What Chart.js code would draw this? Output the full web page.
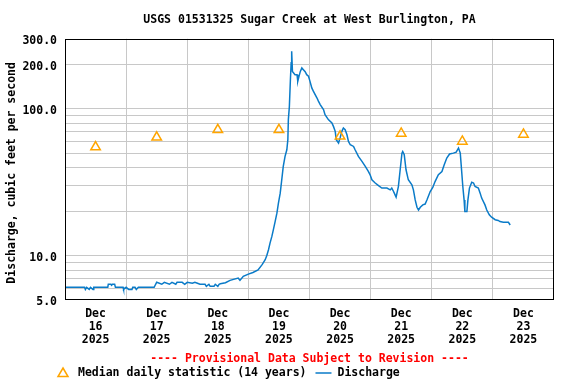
<!DOCTYPE html>
<html>
<head>
<meta charset="utf-8">
<script src="https://cdn.jsdelivr.net/npm/chart.js@4/dist/chart.umd.min.js"></script>
<style>
  body { margin: 0; background: #fff; }
  canvas { display: block; }
</style>
</head>
<body>
<canvas id="flowChart" width="576" height="384"></canvas>
<script>
// hours since Dec 16 2025 00:00, discharge in cfs
const flowHours = [
  0, 7.7, 8, 8.5, 9.5, 10, 11, 11.3,
  16.8, 17, 18, 18.3, 18.6, 19.5, 19.8,
  22.8, 23, 24, 25, 26.3, 26.6, 27.5, 28, 28.8,
  35, 35.4, 36, 38, 39, 41, 42, 43.5, 44, 46, 47, 48,
  50, 51, 52, 53, 55, 55.5, 56.5, 57, 58.5, 59, 60, 60.5,
  61, 63, 64.8, 68, 68.7, 70, 72, 73.8, 75.8, 77.4, 78.6, 79.2,
  79.9, 80.5, 81.2, 81.8, 82.5, 83.2, 83.8, 84.5, 85.1, 85.7, 86.4, 87.1,
  87.5, 87.7, 88.1, 88.5, 88.8, 89.0, 89.3, 89.7, 90.3, 91.1, 91.4, 91.9,
  92.4, 93.0, 93.6, 94.3, 94.9, 95.6, 96.2, 96.9, 97.5, 98.9, 99.5, 100.2,
  101.5, 102.1, 103.4, 104.8, 105.4, 106.1, 106.5, 107.4, 108.0, 108.7, 109.3, 110.0,
  110.7, 111.3, 112.0, 113.3, 113.9, 115.2, 116.6, 117.9, 119.1, 119.8, 120.5, 121.8,
  123.1, 124.4, 126.4, 127.7, 128.3, 129.0, 129.6, 130.0, 130.9, 131.6, 132.3, 132.6,
  133.2, 133.9, 134.8, 136.2, 136.8, 137.5, 138.2, 138.8, 139.5, 140.5, 141.4, 142.1,
  143.4, 144.4, 145.3, 146.6, 148.0, 148.9, 149.9, 151.0, 152.5, 153.6, 154.5, 155.2,
  155.7, 156.2, 156.7, 157.0, 157.8, 158.2, 158.8, 159.7, 160.4, 161.0, 162.3, 163.0,
  163.6, 164.9, 165.6, 166.6, 167.5, 168.9, 170.1, 170.8, 172.1, 174.1, 174.8
];
const flowCfs = [
  6.1, 6.1, 5.9, 6.1, 5.9, 6.1, 5.9, 6.1,
  6.1, 6.4, 6.4, 6.3, 6.4, 6.4, 6.1,
  6.1, 5.9, 6.1, 5.9, 5.9, 6.1, 6.1, 5.9, 6.1,
  6.1, 6.3, 6.6, 6.4, 6.6, 6.4, 6.6, 6.4, 6.6, 6.6, 6.4, 6.6,
  6.5, 6.6, 6.5, 6.4, 6.4, 6.2, 6.4, 6.2, 6.2, 6.4, 6.2, 6.4,
  6.45, 6.55, 6.8, 7.05, 6.8, 7.25, 7.5, 7.7, 8.0, 8.7, 9.4, 10.0,
  11.0, 12.2, 13.5, 15.0, 17.1, 19.5, 22.8, 26.7, 32.9, 40.6, 47.5, 52.7,
  61.7, 84.5, 104, 158, 206, 247, 180, 176, 171, 171, 154, 167,
  180, 190, 185, 179, 171, 167, 154, 139, 132, 119, 113, 107,
  98.8, 91.3, 84.5, 80.2, 76.0, 70.3, 61.7, 58.6, 63.4, 70.3, 74.1, 72.2,
  66.7, 60.1, 57.0, 55.5, 52.7, 47.5, 43.9, 40.6, 37.5, 35.6, 32.9, 31.3,
  30.0, 28.9, 28.9, 28.1, 28.9, 27.4, 26.0, 25.1, 29.6, 38.5, 50.0, 51.3,
  48.8, 38.5, 32.9, 30.4, 28.1, 24.0, 21.4, 20.5, 21.4, 22.2, 22.5, 24.0,
  27.4, 29.2, 32.0, 35.6, 37.5, 41.7, 46.3, 49.3, 50.0, 50.8, 54.2, 50.0,
  38.5, 29.6, 24.0, 20.0, 20.0, 24.0, 28.9, 31.7, 31.3, 29.6, 28.9, 26.7,
  24.7, 22.2, 20.5, 19.0, 18.3, 17.6, 17.4, 17.1, 16.9, 16.9, 16.2
];

// median daily statistic, plotted at noon of each day
const medianHours = [12, 36, 60, 84, 108, 132, 156, 180];
const medianCfs = [55, 64, 72, 72, 65, 68, 60, 67];

const tickMonth = 'Dec';
const tickDays = ['16', '17', '18', '19', '20', '21', '22', '23'];
const tickYear = '2025';
const yTickValues = [5, 6, 7, 8, 9, 10, 20, 30, 40, 50, 60, 70, 80, 90, 100, 200, 300];
const yTickLabels = [5, 10, 100, 200, 300];

const titleText = 'USGS 01531325 Sugar Creek at West Burlington, PA';
const yTitle = 'Discharge, cubic feet per second ';
const provisionalText = '---- Provisional Data Subject to Revision ----';
const medianLabel = 'Median daily statistic (14 years)';
const flowLabel = 'Discharge';

const monoFont = '"DejaVu Sans Mono", "Liberation Mono", monospace';
const flowColor = '#0a7bc8';
const medianColor = '#ffa500';
const gridColor = '#c8c8c8';

// frame around plot, red note and legend below the axis
const notesPlugin = {
  id: 'notes',
  afterDraw(chart) {
    const ctx = chart.ctx;
    const a = chart.chartArea;
    ctx.save();
    ctx.strokeStyle = '#000';
    ctx.lineWidth = 1;
    ctx.strokeRect(Math.round(a.left) + 0.5, Math.round(a.top) + 0.5,
      Math.round(a.width) - 1, Math.round(a.height) - 1);

    ctx.font = 'bold 11.5px ' + monoFont;
    ctx.textBaseline = 'middle';
    ctx.fillStyle = '#ff0000';
    ctx.textAlign = 'center';
    ctx.fillText(provisionalText, (a.left + a.right) / 2, a.bottom + 59);

    let ly = a.bottom + 73;
    let lx = a.left - 2;
    ctx.strokeStyle = medianColor;
    ctx.lineWidth = 1.5;
    ctx.beginPath();
    ctx.moveTo(lx, ly - 5);
    ctx.lineTo(lx + 5, ly + 3.5);
    ctx.lineTo(lx - 5, ly + 3.5);
    ctx.closePath();
    ctx.stroke();

    ctx.fillStyle = '#000';
    ctx.textAlign = 'left';
    let tx = a.left + 13;
    ctx.fillText(medianLabel, tx, ly);
    let end = tx + ctx.measureText(medianLabel).width;
    ctx.strokeStyle = flowColor;
    ctx.beginPath();
    ctx.moveTo(end + 9, ly);
    ctx.lineTo(end + 25, ly);
    ctx.stroke();
    ctx.fillText(flowLabel, end + 31, ly);
    ctx.restore();
  }
};

const ctx = document.getElementById('flowChart').getContext('2d');
const chart = new Chart(ctx, {
  type: 'line',
  data: {
    datasets: [{
      label: medianLabel,
      data: medianHours.map((h, i) => ({ x: h, y: medianCfs[i] })),
      showLine: false,
      pointStyle: 'triangle',
      pointRadius: 5.5,
      pointBorderWidth: 1.5,
      pointBorderColor: medianColor,
      pointBackgroundColor: 'rgba(0,0,0,0)',
      order: 0
    }, {
      label: flowLabel,
      data: flowHours.map((h, i) => ({ x: h, y: flowCfs[i] })),
      borderColor: flowColor,
      borderWidth: 1.5,
      pointRadius: 0,
      tension: 0,
      order: 1
    }]
  },
  options: {
    responsive: false,
    animation: false,
    devicePixelRatio: 1,
    layout: { padding: { left: 0, right: 22, top: 0, bottom: 36 } },
    plugins: {
      legend: { display: false },
      tooltip: { enabled: false },
      title: {
        display: true,
        text: titleText,
        fullSize: false,
        color: '#000',
        font: { family: monoFont, size: 11.5, weight: 'bold', lineHeight: 1.2 },
        padding: { top: 13, bottom: 12 }
      }
    },
    scales: {
      x: {
        type: 'linear',
        min: 0,
        max: 192,
        afterBuildTicks: (scale) => {
          let t = [];
          for (let v = 0; v <= 192; v += 12) t.push({ value: v });
          scale.ticks = t;
        },
        afterFit: (scale) => { scale.height = 48; },
        ticks: {
          autoSkip: false,
          maxRotation: 0,
          padding: 8,
          color: '#000',
          font: { family: monoFont, size: 11.5, weight: 'bold', lineHeight: 1.13 },
          callback: (value) => {
            if (value % 24 !== 12) return '';
            return [tickMonth, tickDays[(value - 12) / 24], tickYear];
          }
        },
        grid: {
          drawTicks: false,
          color: (c) => (c.tick && c.tick.value % 24 === 0 && c.tick.value > 0 && c.tick.value < 192) ? gridColor : 'rgba(0,0,0,0)'
        },
        border: { display: false }
      },
      y: {
        type: 'logarithmic',
        min: 5,
        max: 300,
        afterBuildTicks: (scale) => {
          scale.ticks = yTickValues.map(v => ({ value: v }));
        },
        afterFit: (scale) => { scale.width = 65; },
        ticks: {
          autoSkip: false,
          padding: 8,
          labelOffset: 2,
          color: '#000',
          font: { family: monoFont, size: 11.5, weight: 'bold' },
          callback: (value) => yTickLabels.includes(value) ? value.toFixed(1) : ''
        },
        grid: {
          drawTicks: false,
          color: (c) => (c.tick && c.tick.value > 5 && c.tick.value < 300) ? gridColor : 'rgba(0,0,0,0)'
        },
        border: { display: false },
        title: {
          display: true,
          text: yTitle,
          color: '#000',
          font: { family: monoFont, size: 11.5, weight: 'bold', lineHeight: 1.2 },
          padding: { top: 5, bottom: 0 }
        }
      }
    }
  },
  plugins: [notesPlugin]
});
</script>
</body>
</html>
